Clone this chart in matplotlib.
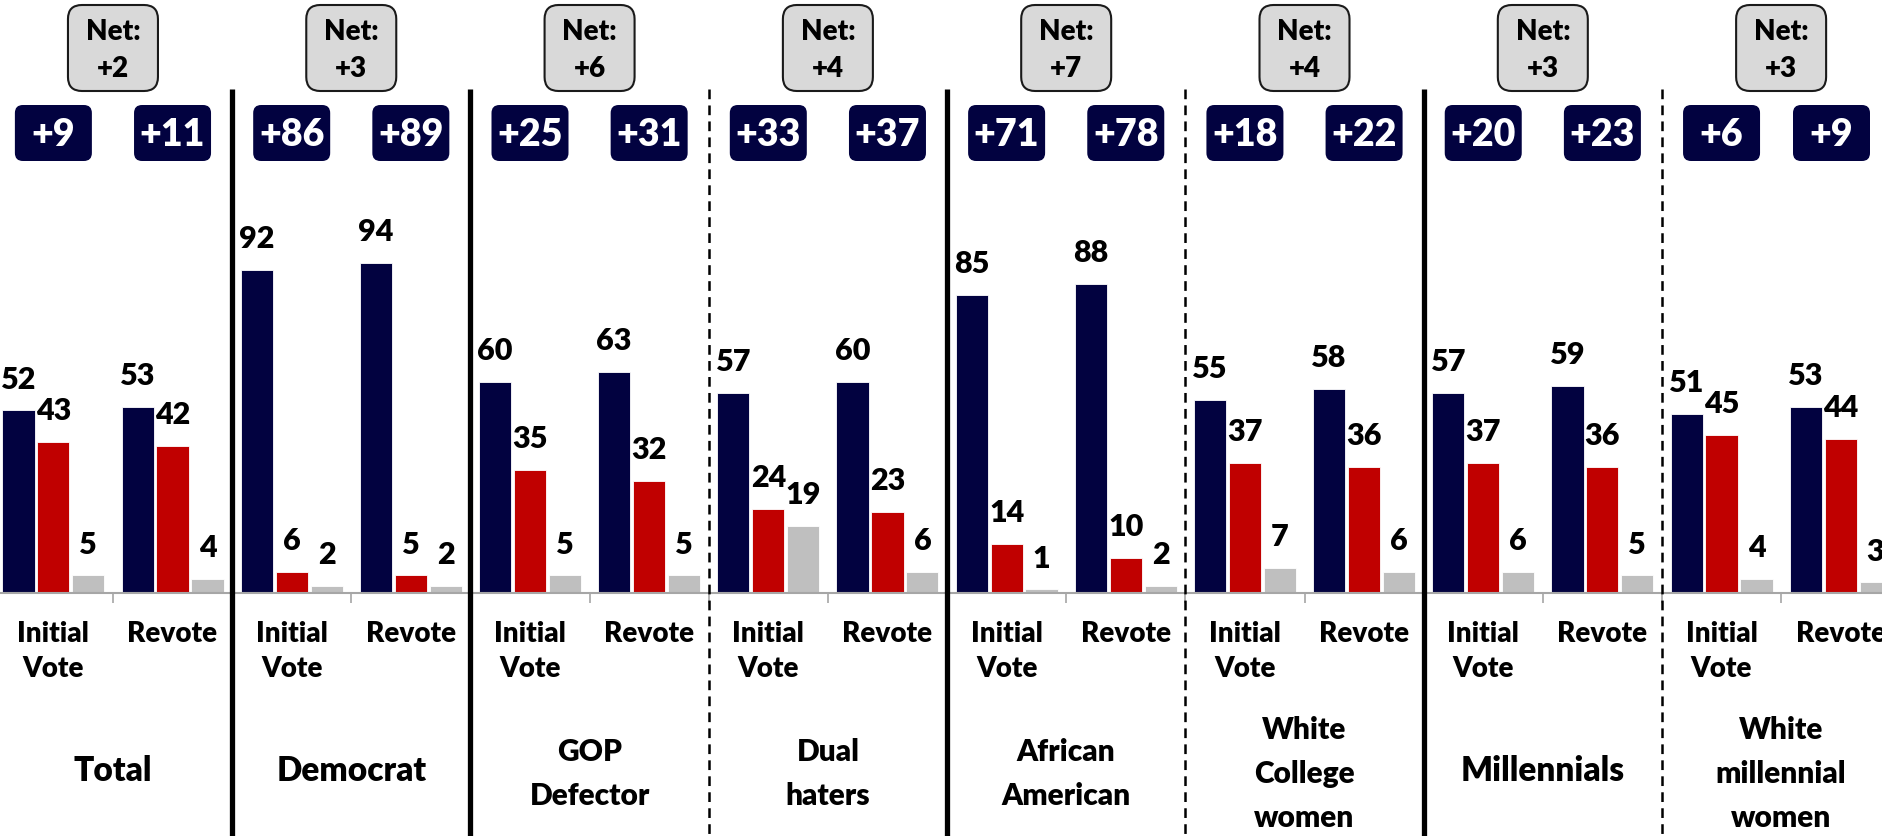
import matplotlib
matplotlib.use('Agg')
import matplotlib.pyplot as plt
from matplotlib.patches import FancyBboxPatch
from matplotlib.lines import Line2D
from matplotlib.transforms import blended_transform_factory
import numpy as np

# ---------------- data ----------------
groups = ['Total', 'Democrat', 'GOP\nDefector', 'Dual\nhaters', 'African\nAmerican',
          'White\nCollege\nwomen', 'Millennials', 'White\nmillennial\nwomen']
subgroups = ['Initial\nVote', 'Revote']
navy_initial = [52, 92, 60, 57, 85, 55, 57, 51]
red_initial = [43, 6, 35, 24, 14, 37, 37, 45]
gray_initial = [5, 2, 5, 19, 1, 7, 6, 4]
navy_revote = [53, 94, 63, 60, 88, 58, 59, 53]
red_revote = [42, 5, 32, 23, 10, 36, 36, 44]
gray_revote = [4, 2, 5, 6, 2, 6, 5, 3]
margin_initial = ['+9', '+86', '+25', '+33', '+71', '+18', '+20', '+6']
margin_revote = ['+11', '+89', '+31', '+37', '+78', '+22', '+23', '+9']
net_change = ['+2', '+3', '+6', '+4', '+7', '+4', '+3', '+3']
separator_styles = ['solid', 'solid', 'dashed', 'solid', 'dashed', 'solid', 'dashed']

NAVY = '#020240'
RED = '#C00000'
GRAY = '#BFBFBF'
WEIGHT = 'heavy'

plt.rcParams['font.family'] = ['Lato', 'DejaVu Sans']
plt.rcParams['lines.scale_dashes'] = False

W, H, DPI = 1883, 836, 100
fig = plt.figure(figsize=(W / DPI, H / DPI), dpi=DPI)
fig.patch.set_facecolor('white')

BASE_Y = 593
PX_PER_UNIT = 3.51
ax = fig.add_axes([0, (H - BASE_Y) / H, 1, BASE_Y / H])
ax.patch.set_alpha(0)

n = len(groups)
cat = np.arange(2 * n)

# axis styling (ticks first, limits afterwards so set_xticks cannot widen them)
for s in ['top', 'left', 'right']:
    ax.spines[s].set_visible(False)
ax.spines['bottom'].set_color('#A6A6A6')
ax.spines['bottom'].set_linewidth(1.5)
ax.set_yticks([])
ax.set_xticks(cat)
ax.set_xticklabels([])
ax.tick_params(axis='x', which='major', length=0)
ax.set_xticks(np.arange(-0.5, 2 * n, 1), minor=True)
ax.tick_params(axis='x', which='minor', length=7.2, width=1.2, color='#A6A6A6', direction='out')

ax.set_xlim(-0.448, 15.355)
ax.set_ylim(0, BASE_Y / PX_PER_UNIT)

ov = fig.add_axes([0, 0, 1, 1], zorder=3)
ov.set_xlim(0, W)
ov.set_ylim(H, 0)
ov.axis('off')
ov.patch.set_alpha(0)

trans = blended_transform_factory(ax.transData, ov.transData)

def interleave(a, b):
    return np.column_stack([a, b]).ravel()

series = [
    (interleave(navy_initial, navy_revote), NAVY, -0.293),
    (interleave(red_initial, red_revote), RED, 0.0),
    (interleave(gray_initial, gray_revote), GRAY, 0.293),
]
for vals, col, off in series:
    ax.bar(cat + off, vals, width=0.27, color=col, edgecolor='white', linewidth=0.6)
    for x, v in zip(cat + off, vals):
        ax.annotate(f'{v}', (x, v), xytext=(0, 15.8), textcoords='offset points',
                    ha='center', va='baseline', fontsize=22, fontweight=WEIGHT,
                    color='black', annotation_clip=False)
ax.set_xlim(-0.448, 15.355)
ax.set_ylim(0, BASE_Y / PX_PER_UNIT)

# subgroup labels
for i in cat:
    for j, line in enumerate(subgroups[i % 2].split('\n')):
        fig.text(i, 642 + 35 * j, line, transform=trans, ha='center', va='baseline',
                 fontsize=20, fontweight=WEIGHT, color='black')

# group labels
for g, name in enumerate(groups):
    lines = name.split('\n')
    k = len(lines)
    if k == 1:
        fs, ys = 24, [781]
    else:
        fs = 21.5
        ys = 783 + (np.arange(k) - (k - 1) / 2) * 44
    for line, y in zip(lines, ys):
        fig.text(2 * g + 0.5, y, line, transform=trans, ha='center', va='baseline',
                 fontsize=fs, fontweight=WEIGHT, color='black')

# separators
for k, style in enumerate(separator_styles):
    x = 2 * k + 1.5
    if style == 'solid':
        ln = Line2D([x, x], [89, H], transform=trans, color='black', lw=3.8,
                    solid_capstyle='butt', clip_on=False)
    else:
        ln = Line2D([x, x], [89, H], transform=trans, color='black', lw=1.8,
                    linestyle=(0, (7, 4.5)), clip_on=False)
    ov.add_line(ln)

# margin boxes
BW, BH = 77, 56
for i in cat:
    cx = ax.transData.transform((i, 0))[0]
    cx = min(cx, W - 13 - BW / 2)
    label = margin_initial[i // 2] if i % 2 == 0 else margin_revote[i // 2]
    ov.add_patch(FancyBboxPatch((cx - BW / 2, 105), BW, BH,
                                boxstyle='round,pad=0,rounding_size=8',
                                fc=NAVY, ec='none', clip_on=False))
    ov.text(cx, 146, label, ha='center', va='baseline', fontsize=27,
            fontweight=WEIGHT, color='white')

# net boxes
NW, NH = 90, 86
for g, v in enumerate(net_change):
    cx = ax.transData.transform((2 * g + 0.5, 0))[0]
    ov.add_patch(FancyBboxPatch((cx - NW / 2, 5), NW, NH,
                                boxstyle='round,pad=0,rounding_size=14',
                                fc='#D9D9D9', ec='#1A1A1A', lw=1.5, clip_on=False))
    ov.text(cx, 40, 'Net:', ha='center', va='baseline', fontsize=20,
            fontweight=WEIGHT, color='black')
    ov.text(cx, 77, v, ha='center', va='baseline', fontsize=20,
            fontweight=WEIGHT, color='black')

fig.savefig('out.png', dpi=DPI, facecolor='white')
